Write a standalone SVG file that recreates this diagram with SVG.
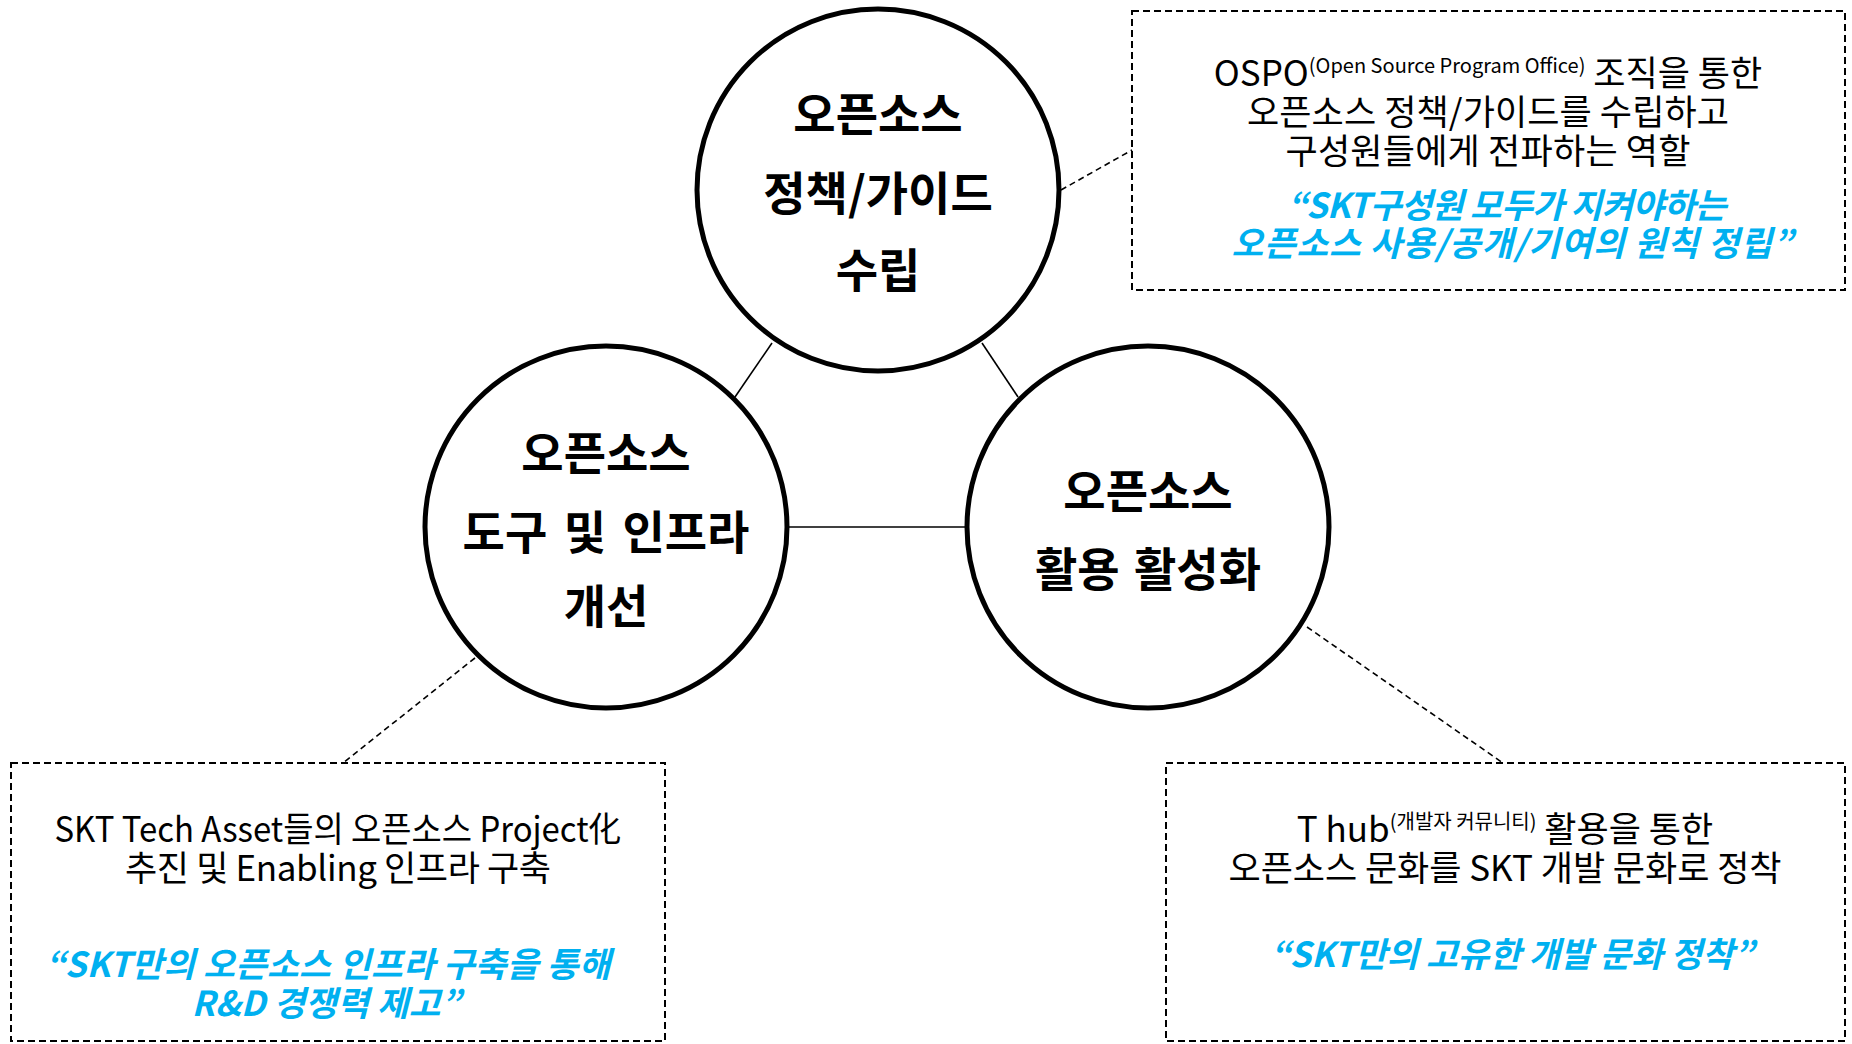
<svg xmlns="http://www.w3.org/2000/svg" width="1852" height="1044" viewBox="0 0 1852 1044">
<style>
.circ{fill:#ffffff;stroke:#000000;stroke-width:5}
.head{font-family:'Noto Sans CJK KR','Noto Sans',sans-serif;font-weight:bold;font-size:46px;fill:#000000;text-anchor:middle}
.body{font-family:'Noto Sans CJK KR','Noto Sans',sans-serif;font-size:35px;fill:#000000;text-anchor:middle}
.quote{font-family:'Noto Sans CJK KR','Noto Sans',sans-serif;font-weight:bold;font-style:italic;font-size:34.5px;fill:#00B0F0;text-anchor:middle}
.sup{font-size:20px}
.box{fill:none;stroke:#000000;stroke-width:2;stroke-dasharray:7 4}
.solid{stroke:#000000;stroke-width:1.6;fill:none}
.dash{stroke:#000000;stroke-width:1.6;fill:none;stroke-dasharray:6 4}
</style>
<rect width="1852" height="1044" fill="#ffffff"/>
<g id="connectors">
<line class="solid" x1="772" y1="343" x2="735" y2="397"/>
<line class="solid" x1="982" y1="343" x2="1018" y2="397"/>
<line class="solid" x1="788" y1="527" x2="966" y2="527"/>
<line class="dash" x1="1061" y1="190" x2="1132" y2="150"/>
<line class="dash" x1="475" y1="658" x2="343" y2="763"/>
<line class="dash" x1="1307" y1="627" x2="1503" y2="763"/>
</g>
<g id="node-policy">
<circle class="circ" cx="878" cy="190" r="181"/>
<text class="head" x="878" y="131">오픈소스</text>
<text class="head" x="878" y="210">정책/가이드</text>
<text class="head" x="878" y="287">수립</text>
</g>
<g id="node-infra">
<circle class="circ" cx="606" cy="527" r="181"/>
<text class="head" x="606" y="470">오픈소스</text>
<text class="head" x="606" y="549" word-spacing="6">도구 및 인프라</text>
<text class="head" x="606" y="623">개선</text>
</g>
<g id="node-usage">
<circle class="circ" cx="1148" cy="527" r="181"/>
<text class="head" x="1148" y="508">오픈소스</text>
<text class="head" x="1148" y="586" word-spacing="4">활용 활성화</text>
</g>
<g id="note-policy">
<rect class="box" x="1132" y="11" width="713" height="279"/>
<text class="body" x="1488" y="86">OSPO<tspan class="sup" dy="-13">(Open Source Program Office)</tspan><tspan dy="13"> 조직을 통한</tspan></text>
<text class="body" x="1488" y="125" textLength="482" lengthAdjust="spacing">오픈소스 정책/가이드를 수립하고</text>
<text class="body" x="1488" y="164" textLength="405" lengthAdjust="spacing">구성원들에게 전파하는 역할</text>
<text class="quote" x="1507" y="218" textLength="439" lengthAdjust="spacing">“SKT구성원 모두가 지켜야하는</text>
<text class="quote" x="1512" y="256" textLength="561" lengthAdjust="spacing">오픈소스 사용/공개/기여의 원칙 정립”</text>
</g>
<g id="note-infra">
<rect class="box" x="11" y="763" width="654" height="278"/>
<text class="body" x="338" y="842" textLength="567" lengthAdjust="spacingAndGlyphs">SKT Tech Asset들의 오픈소스 Project化</text>
<text class="body" x="338" y="881" textLength="426" lengthAdjust="spacing">추진 및 Enabling 인프라 구축</text>
<text class="quote" x="328" y="977" textLength="565" lengthAdjust="spacing">“SKT만의 오픈소스 인프라 구축을 통해</text>
<text class="quote" x="326" y="1016" textLength="269" lengthAdjust="spacing">R&amp;D 경쟁력 제고”</text>
</g>
<g id="note-usage">
<rect class="box" x="1166" y="763" width="679" height="278"/>
<text class="body" x="1505" y="842">T hub<tspan class="sup" dy="-13">(개발자 커뮤니티)</tspan><tspan dy="13"> 활용을 통한</tspan></text>
<text class="body" x="1505" y="881" textLength="553" lengthAdjust="spacing">오픈소스 문화를 SKT 개발 문화로 정착</text>
<text class="quote" x="1512" y="967" textLength="483" lengthAdjust="spacing">“SKT만의 고유한 개발 문화 정착”</text>
</g>
</svg>
